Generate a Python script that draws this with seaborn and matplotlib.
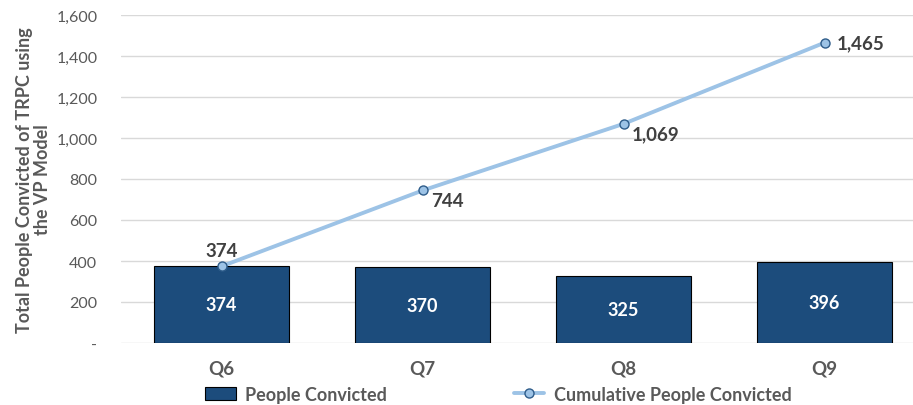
import matplotlib
matplotlib.use("Agg")
import matplotlib.pyplot as plt
import seaborn as sns
import pandas as pd
from matplotlib.ticker import FuncFormatter
from matplotlib.lines import Line2D
from matplotlib.patches import Patch

quarters = ["Q6", "Q7", "Q8", "Q9"]
people_convicted = [374, 370, 325, 396]
cumulative_convicted = [374, 744, 1069, 1465]
y_ticks = [0, 200, 400, 600, 800, 1000, 1200, 1400, 1600]

sns.set_theme(style="white")
plt.rcParams["font.family"] = ["Lato", "DejaVu Sans"]

BAR = "#1C4C7C"
LINE = "#9DC3E6"
GREY = "#595959"

df = pd.DataFrame({"Quarter": quarters, "People": people_convicted,
                   "Cumulative": cumulative_convicted})

fig = plt.figure(figsize=(9.13, 4.06), dpi=100)
ax = fig.add_axes([121/913, 62/406, (913-121)/913, (344-16)/406])

sns.barplot(data=df, x="Quarter", y="People", color=BAR, width=0.67,
            edgecolor="black", linewidth=0.8, saturation=1, ax=ax, zorder=2)
ax.plot(range(len(quarters)), cumulative_convicted, color=LINE, lw=2.8,
        marker="o", ms=6.5, mfc=LINE, mec="#2E5C8A", mew=1.0, zorder=4)

# bar labels
for i, v in enumerate(people_convicted):
    ax.text(i, v / 2, f"{v:,}", ha="center", va="center", color="white",
            fontsize=13, fontweight="bold", zorder=5)

# line labels
offsets = [(0, 5, "center", "bottom"), (6, -1, "left", "top"),
           (6, -1, "left", "top"), (9, 0, "left", "center")]
for i, v in enumerate(cumulative_convicted):
    dx, dy, ha, va = offsets[i]
    ax.annotate(f"{v:,}", (i, v), xytext=(dx, dy), textcoords="offset points",
                ha=ha, va=va, color="#404040", fontsize=13.5, fontweight="bold",
                zorder=5)

ax.set_ylim(0, 1600)
ax.set_xlim(-0.5, 3.44)
ax.set_yticks(y_ticks)
ax.yaxis.set_major_formatter(FuncFormatter(lambda v, p: "-" if v == 0 else f"{int(v):,}"))
ax.grid(axis="y", color="#D9D9D9", lw=1, zorder=0)
ax.set_axisbelow(True)
for s in ax.spines.values():
    s.set_visible(False)
ax.tick_params(axis="y", length=0, labelsize=11.5, labelcolor=GREY, pad=17)
ax.tick_params(axis="x", length=0, labelsize=13.5, labelcolor=GREY, pad=12)
for t in ax.get_xticklabels():
    t.set_fontweight("bold")
ax.set_xlabel("")
ax.set_ylabel("Total People Convicted of TRPC using\nthe VP Model", fontsize=13,
              fontweight="bold", color=GREY, linespacing=1.1)
ax.yaxis.set_label_coords(-0.088, 0.5)

handles = [Patch(facecolor=BAR, edgecolor="black", linewidth=0.8),
           Line2D([0], [0], color=LINE, lw=2.8, marker="o", ms=6.5, mfc=LINE,
                  mec="#2E5C8A", mew=1.0)]
leg = fig.legend(handles, ["People Convicted", "Cumulative People Convicted"],
                 loc="center", bbox_to_anchor=(0.546, 0.027), ncol=2, frameon=False,
                 handlelength=1.7, handletextpad=0.55, columnspacing=7.0,
                 prop={"weight": "bold", "size": 13})
for t in leg.get_texts():
    t.set_color(GREY)

fig.savefig("out.png", dpi=100)
